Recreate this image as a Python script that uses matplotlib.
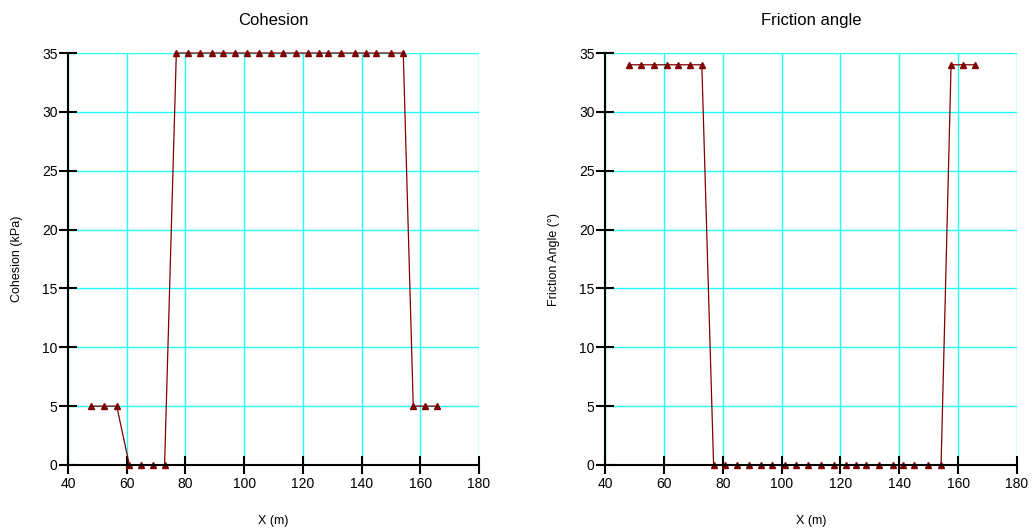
import numpy as np
import matplotlib.pyplot as plt

plt.rcParams['font.family'] = ['Liberation Sans', 'DejaVu Sans']

# slice x positions shared by both properties
x = [48.0, 52.3, 56.6, 60.9, 64.8, 68.8, 72.9,
     76.9, 80.9, 84.8, 88.9, 92.9, 96.9, 101.0, 104.9, 109.0,
     113.4, 117.7, 121.9, 125.4, 128.6, 133.0, 137.8, 141.4, 145.0,
     149.9, 154.2, 157.6, 161.7, 165.7]
cohesion = [5, 5, 5, 0, 0, 0, 0] + [35] * 20 + [5, 5, 5]
friction = [34] * 7 + [0] * 20 + [34] * 3

panels = [
    ("Cohesion", "Cohesion (kPa)", cohesion),
    ("Friction angle", "Friction Angle (°)", friction),
]

fig = plt.figure(figsize=(10.32, 5.31), dpi=100)
W, H = 1032.0, 531.0
boxes = [(68, 53, 479, 465), (605, 53, 1017, 465)]

for (title, ylab, y), (l, t, r, b) in zip(panels, boxes):
    ax = fig.add_axes([l / W, 1 - b / H, (r - l) / W, (b - t) / H])
    ax.plot(x, y, color='#800000', lw=0.9, marker='^', ms=4.8,
            markerfacecolor='#800000', markeredgecolor='#800000', clip_on=False)
    ax.set_xlim(40, 180)
    ax.set_ylim(0, 35)
    ax.set_xticks(np.arange(40, 181, 20))
    ax.set_yticks(np.arange(0, 36, 5))
    ax.grid(True, color='#22ffff', lw=1.0)
    ax.set_axisbelow(True)
    for s in ('top', 'right'):
        ax.spines[s].set_visible(False)
    for s in ('left', 'bottom'):
        ax.spines[s].set_linewidth(1.5)
    ax.tick_params(direction='inout', length=13, width=1.5, labelsize=10, pad=1)
    ax.tick_params(axis='x', pad=2.5)
    ax.set_title(title, fontsize=12, pad=20)
    ax.set_xlabel("X (m)", fontsize=9, labelpad=17)
    ax.set_ylabel(ylab, fontsize=9, labelpad=14)

fig.savefig("out.png", dpi=100)
